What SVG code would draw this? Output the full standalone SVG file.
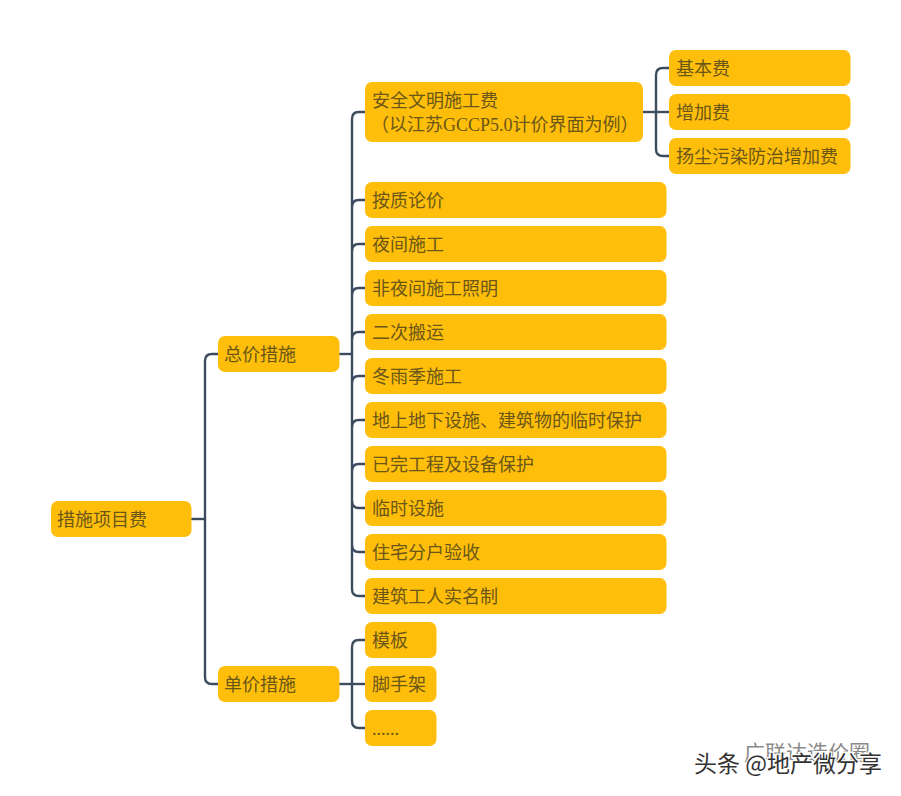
<svg xmlns="http://www.w3.org/2000/svg" width="901" height="796" viewBox="0 0 901 796">
<style>
.n rect{fill:#ffbe0a}
.n text{font-family:"Liberation Serif","Noto Sans CJK SC",serif;font-size:18px;fill:#6a5718}
.c path{fill:none;stroke:#3d4b5f;stroke-width:2.4}
.w{font-family:"Noto Sans CJK SC","Liberation Sans",sans-serif}
</style>
<rect width="901" height="796" fill="#fff"/>
<g id="connectors" class="c">
<path d="M191 519H205"/>
<path d="M218 354H212Q205 354 205 361V677Q205 684 212 684H218"/>
<path d="M339 354H352"/>
<path d="M339 684H365"/>
<path d="M365 112H359Q352 112 352 119V589Q352 596 359 596H365"/>
<path d="M352 207Q352 200 359 200H365"/>
<path d="M352 251Q352 244 359 244H365"/>
<path d="M352 295Q352 288 359 288H365"/>
<path d="M352 339Q352 332 359 332H365"/>
<path d="M352 383Q352 376 359 376H365"/>
<path d="M352 427Q352 420 359 420H365"/>
<path d="M352 471Q352 464 359 464H365"/>
<path d="M352 501Q352 508 359 508H365"/>
<path d="M352 545Q352 552 359 552H365"/>
<path d="M365 640H359Q352 640 352 647V721Q352 728 359 728H365"/>
<path d="M643 112H669"/>
<path d="M669 68H663Q656 68 656 75V149Q656 156 663 156H669"/>
</g>
<g id="root" class="n"><rect x="51" y="501" width="140.500" height="36" rx="7"/><text x="57" y="526">措施项目费</text></g>
<g id="zongjia" class="n"><rect x="218" y="336" width="121.500" height="36" rx="7"/><text x="224" y="361">总价措施</text></g>
<g id="danjia" class="n"><rect x="218" y="666" width="121.500" height="36" rx="7"/><text x="224" y="691">单价措施</text></g>
<g id="anquan" class="n"><rect x="365" y="82" width="278" height="60" rx="7"/><text x="372" y="107">安全文明施工费</text><text x="371" y="131">（以江苏GCCP5.0计价界面为例）</text></g>
<g id="jiben" class="n"><rect x="669" y="50" width="181.500" height="36" rx="7"/><text x="676" y="75">基本费</text></g>
<g id="zengjia" class="n"><rect x="669" y="94" width="181.500" height="36" rx="7"/><text x="676" y="119">增加费</text></g>
<g id="yangchen" class="n"><rect x="669" y="138" width="181.500" height="36" rx="7"/><text x="676" y="163">扬尘污染防治增加费</text></g>
<g id="a1" class="n"><rect x="365" y="182" width="301.500" height="36" rx="7"/><text x="372" y="207">按质论价</text></g>
<g id="a2" class="n"><rect x="365" y="226" width="301.500" height="36" rx="7"/><text x="372" y="251">夜间施工</text></g>
<g id="a3" class="n"><rect x="365" y="270" width="301.500" height="36" rx="7"/><text x="372" y="295">非夜间施工照明</text></g>
<g id="a4" class="n"><rect x="365" y="314" width="301.500" height="36" rx="7"/><text x="372" y="339">二次搬运</text></g>
<g id="a5" class="n"><rect x="365" y="358" width="301.500" height="36" rx="7"/><text x="372" y="383">冬雨季施工</text></g>
<g id="a6" class="n"><rect x="365" y="402" width="301.500" height="36" rx="7"/><text x="372" y="427">地上地下设施、建筑物的临时保护</text></g>
<g id="a7" class="n"><rect x="365" y="446" width="301.500" height="36" rx="7"/><text x="372" y="471">已完工程及设备保护</text></g>
<g id="a8" class="n"><rect x="365" y="490" width="301.500" height="36" rx="7"/><text x="372" y="515">临时设施</text></g>
<g id="a9" class="n"><rect x="365" y="534" width="301.500" height="36" rx="7"/><text x="372" y="559">住宅分户验收</text></g>
<g id="a10" class="n"><rect x="365" y="578" width="301.500" height="36" rx="7"/><text x="372" y="603">建筑工人实名制</text></g>
<g id="b1" class="n"><rect x="365" y="622" width="71.500" height="36" rx="7"/><text x="372" y="647">模板</text></g>
<g id="b2" class="n"><rect x="365" y="666" width="71.500" height="36" rx="7"/><text x="372" y="691">脚手架</text></g>
<g id="b3" class="n"><rect x="365" y="710" width="71.500" height="36" rx="7"/><text x="372" y="735">......</text></g>
<text class="w" x="744" y="760" font-size="21" fill="#8a8a8a">广联达造价圈</text>
<text class="w" x="694" y="772" font-size="23" fill="#333" stroke="#fff" stroke-width="2.5" paint-order="stroke">头条 @地产微分享</text>
</svg>
